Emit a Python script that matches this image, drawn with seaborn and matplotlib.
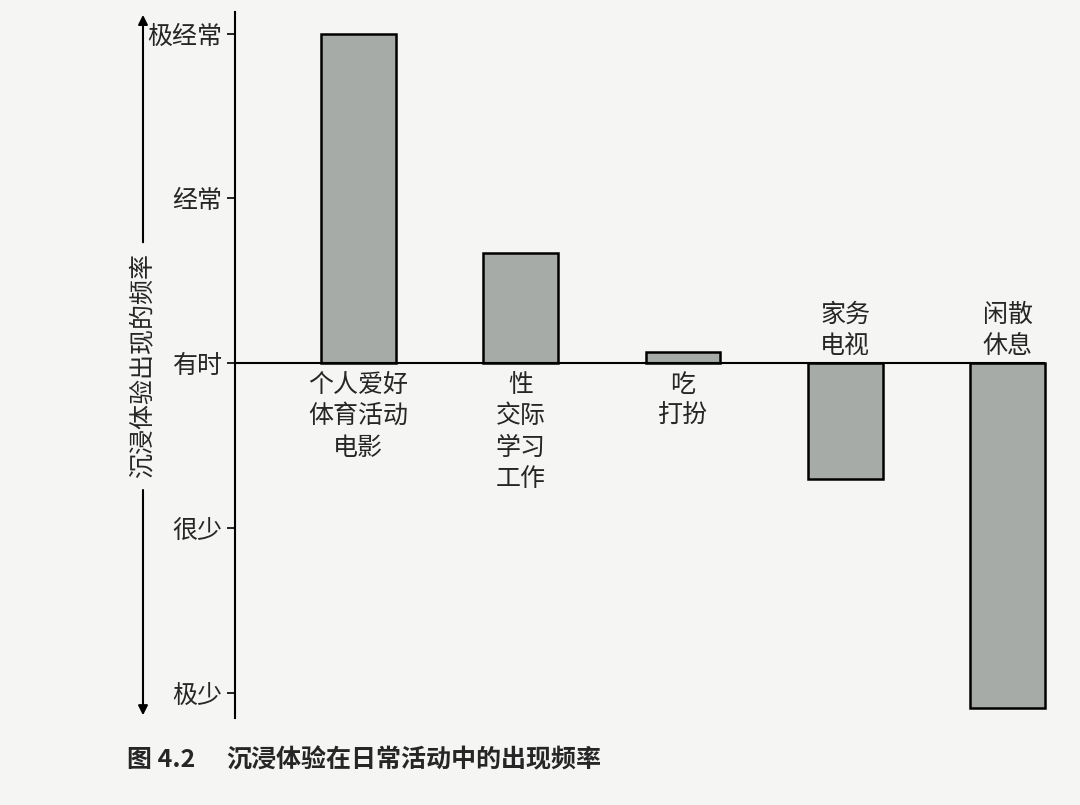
import matplotlib
matplotlib.use("Agg")
import matplotlib.pyplot as plt
import seaborn as sns
import pandas as pd

# ---- data ----
activities = ["个人爱好\n体育活动\n电影", "性\n交际\n学习\n工作", "吃\n打扮", "家务\n电视", "闲散\n休息"]
frequency = [2.0, 0.67, 0.07, -0.70, -2.09]
level_values = [2, 1, 0, -1, -2]
level_labels = ["极经常", "经常", "有时", "很少", "极少"]
y_title = "沉浸体验出现的频率"
caption_num = "图 4.2"
caption_text = "沉浸体验在日常活动中的出现频率"

sns.set_theme(style="white")
plt.rcParams['font.family'] = ['Noto Sans CJK SC', 'DejaVu Sans']

bg = "#f5f5f3"
fig = plt.figure(figsize=(10.8, 8.05), dpi=100, facecolor=bg)
ax = fig.add_axes([0.2176, 0.108, 0.75, 0.877])
ax.set_facecolor(bg)

df = pd.DataFrame({"activity": activities, "freq": frequency})
sns.barplot(data=df, x="activity", y="freq", ax=ax, color="#a7aba8",
            saturation=1, width=0.46, edgecolor="black", linewidth=1.8)
for p in ax.patches:
    p.set_clip_on(False)

ax.set_xlim(-0.76, 4.23)
ax.set_ylim(-2.15, 2.13)
ax.axhline(0, color="black", lw=1.5, zorder=3)

fs = 18
ax.set_yticks(level_values)
ax.set_yticklabels(level_labels, fontsize=fs, fontweight="medium")
ax.tick_params(axis="y", direction="out", length=6, width=1.2, color="black", pad=3, left=True)
ax.set_xticks([])
ax.set_xlabel("")
ax.set_ylabel("")
for s in ["top", "right", "bottom"]:
    ax.spines[s].set_visible(False)
ax.spines["left"].set_color("black")
ax.spines["left"].set_linewidth(1.5)

# category labels next to the zero line
for i, (lab, v) in enumerate(zip(activities, frequency)):
    if v >= 0:
        ax.annotate(lab, xy=(i, 0), xytext=(0, -6), textcoords="offset points",
                    ha="center", va="top", fontsize=fs, fontweight="medium", linespacing=1.27)
    else:
        ax.annotate(lab, xy=(i, 0), xytext=(0, 3), textcoords="offset points",
                    ha="center", va="bottom", fontsize=fs, fontweight="medium", linespacing=1.27)

# y title with arrows
xa = -0.1136
ax.text(xa, 0.5, y_title, transform=ax.transAxes, rotation=90, ha="center",
        va="center", fontsize=fs, fontweight="medium")
ax.annotate("", xy=(xa, 1.0), xytext=(xa, 0.67), xycoords="axes fraction",
            arrowprops=dict(arrowstyle="-|>", color="black", lw=1.5, mutation_scale=14))
ax.annotate("", xy=(xa, 0.0), xytext=(xa, 0.327), xycoords="axes fraction",
            arrowprops=dict(arrowstyle="-|>", color="black", lw=1.5, mutation_scale=14))

fig.text(127 / 1080, 1 - 760 / 805, caption_num, fontsize=fs, fontweight="bold",
         ha="left", va="center")
fig.text(226 / 1080, 1 - 760 / 805, caption_text, fontsize=fs, fontweight="bold",
         ha="left", va="center")

fig.savefig("out.png", dpi=100, facecolor=bg)
